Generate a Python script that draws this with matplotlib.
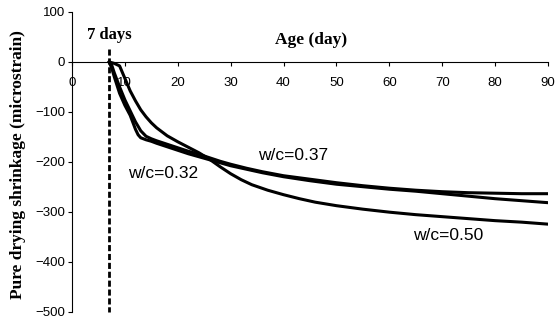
import matplotlib
matplotlib.use("Agg")
import matplotlib.pyplot as plt

# Data
days_050 = [7, 8, 9, 10, 11, 12, 13, 14, 15, 16, 18, 20, 22, 24, 26, 28, 30, 32, 34, 37, 40, 43, 46, 50, 55, 60, 65, 70, 75, 80, 85, 90]
wc_050 = [0, -3, -8, -33, -58, -78, -96, -110, -122, -132, -148, -160, -171, -182, -195, -210, -224, -236, -246, -257, -266, -274, -281, -288, -295, -301, -306, -310, -314, -318, -321, -325]

days_032 = [7, 7.5, 8, 9, 10, 11, 12, 12.5, 13, 14, 15, 16, 18, 20, 22, 24, 26, 28, 30, 33, 36, 40, 45, 50, 55, 60, 65, 70, 75, 80, 85, 90]
wc_032 = [0, -12, -30, -63, -87, -107, -135, -146, -152, -156, -159, -163, -170, -177, -184, -190, -196, -202, -208, -215, -222, -230, -238, -245, -250, -255, -259, -264, -269, -274, -278, -282]

days_037 = [7, 7.5, 8, 9, 10, 11, 12, 13, 14, 15, 16, 18, 20, 22, 24, 26, 28, 30, 33, 36, 40, 45, 50, 55, 60, 65, 70, 75, 80, 85, 90]
wc_037 = [0, -6, -22, -50, -76, -98, -120, -138, -149, -154, -158, -165, -172, -179, -185, -192, -199, -205, -213, -220, -228, -235, -242, -248, -253, -257, -260, -262, -263, -264, -264]

x_ticks = [0, 10, 20, 30, 40, 50, 60, 70, 80, 90]
y_ticks = [100, 0, -100, -200, -300, -400, -500]

fig = plt.figure(figsize=(5.6, 3.2), dpi=100)
ax = fig.add_axes([72/560, 1 - 311.5/320, 476/560, (311.5 - 12)/320])

for d, v in [(days_050, wc_050), (days_032, wc_032), (days_037, wc_037)]:
    ax.plot(d, v, color="black", lw=2.2, solid_capstyle="round", solid_joinstyle="round")

ax.plot([7, 7], [25, -500], color="black", lw=2.0, dashes=(2.2, 1.0), clip_on=False)

ax.set_xlim(0, 90)
ax.set_ylim(-500, 100)
ax.set_xticks(x_ticks)
ax.set_yticks(y_ticks)

ax.spines["top"].set_visible(False)
ax.spines["right"].set_visible(False)
ax.spines["bottom"].set_position(("data", 0))
ax.spines["bottom"].set_linewidth(0.8)
ax.spines["left"].set_linewidth(0.8)
ax.tick_params(axis="x", direction="out", length=3, width=0.8, pad=8, labelsize=9.5)
ax.tick_params(axis="y", direction="out", length=3, width=0.8, pad=2, labelsize=9.5)
for lab in ax.get_xticklabels() + ax.get_yticklabels():
    lab.set_fontfamily("Liberation Sans")

serif = "Liberation Serif"
ax.text(2.8, 53, "7 days", fontsize=12, fontweight="bold", family=serif, va="center", ha="left")
ax.text(38.4, 43, "Age (day)", fontsize=12.5, fontweight="bold", family=serif, va="center", ha="left")
ax.text(35.2, -187, "w/c=0.37", fontsize=12.5, family="Liberation Sans", va="center", ha="left")
ax.text(10.6, -223, "w/c=0.32", fontsize=12.5, family="Liberation Sans", va="center", ha="left")
ax.text(64.5, -347, "w/c=0.50", fontsize=12.5, family="Liberation Sans", va="center", ha="left")

fig.text(18/560, 1 - 165/320, "Pure drying shrinkage (microstrain)", rotation=90,
         fontsize=12.5, fontweight="bold", family=serif, va="center", ha="center")

fig.savefig("out.png", dpi=100)
